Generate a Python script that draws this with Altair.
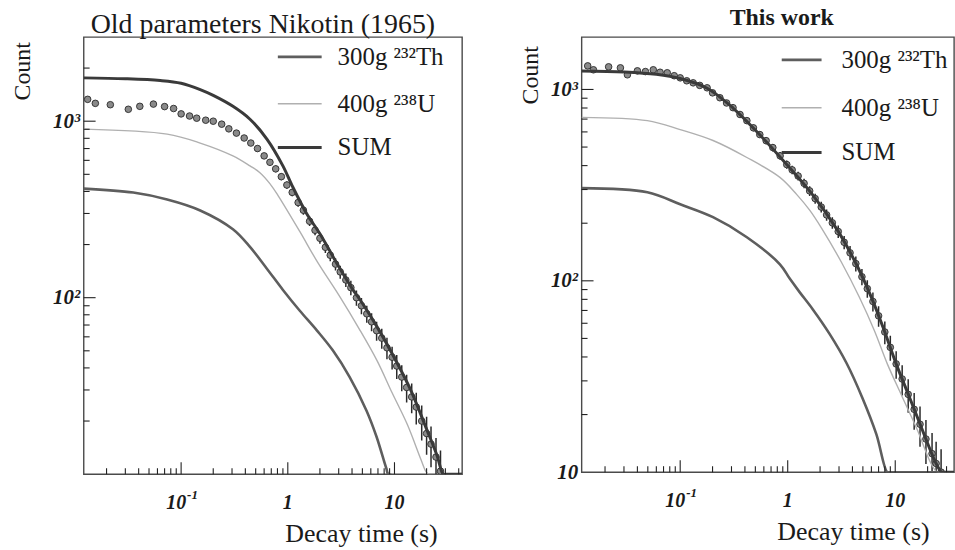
import altair as alt
import pandas as pd

FONT = "Liberation Serif"
INK = "#1a1a1a"

# ---------------- Left panel: "Old parameters Nikotin (1965)" ----------------
L_data_x = [0.0133, 0.0157, 0.0217, 0.032, 0.041, 0.055, 0.07, 0.085, 0.1, 0.12, 0.14, 0.17,
            0.2, 0.24, 0.28, 0.33, 0.39, 0.45, 0.52, 0.6, 0.68, 0.77, 0.87, 0.98, 1.1, 1.25,
            1.4, 1.6, 1.8, 2.0, 2.25, 2.5, 2.8, 3.1, 3.5, 3.9, 4.4, 4.9, 5.5, 6.1, 6.8, 7.6,
            8.5, 9.5, 10.5, 11.7, 13, 14.5, 16, 18, 20, 22, 24.5, 27]
L_data_y = [1330, 1262, 1240, 1168, 1214, 1250, 1210, 1180, 1100, 1070, 1040, 1013,
            1000, 962, 905, 856, 803, 752, 700, 636, 585, 537, 485, 435, 395, 346,
            313, 271, 241, 217, 193, 174, 155, 140, 126, 114, 100, 90, 81, 73, 65, 59,
            52, 46, 41, 35.5, 31, 27.4, 24, 20, 17, 14.8, 12.5, 10.4]

L_sum_x = [0.0122, 0.03, 0.0637, 0.1, 0.151, 0.2, 0.306, 0.442, 0.637, 0.897, 1.1, 1.5, 2, 3,
           4, 5, 7, 10, 14, 20, 25, 28.5, 29.5, 43]
L_sum_y = [1760, 1740, 1700, 1640, 1510, 1400, 1214, 1026, 792, 560, 430, 300, 230, 150,
           113, 93, 67, 45.5, 30.5, 18, 12.8, 10, 10, 10]

L_u_x = [0.0122, 0.074, 0.151, 0.306, 0.442, 0.548, 0.679, 0.808, 1.29, 1.9, 2.99, 4.71, 6.9,
         9.5, 13.2, 17.7, 19.8, 20.8, 43]
L_u_y = [902, 845, 752, 636, 558, 511, 443, 380, 238, 159, 104, 66, 43.7, 28.9, 19.1, 12.1,
         10.3, 10, 10]

L_th_x = [0.0122, 0.0356, 0.074, 0.151, 0.306, 0.442, 0.637, 0.897, 1.29, 1.87, 2.64, 3.79,
          5.47, 6.79, 8.42, 8.8, 43]
L_th_y = [415, 394, 360, 312, 244, 194, 146, 111, 84.6, 65.3, 50.3, 35.6, 22.9, 16.3, 10.7,
          10, 10]

# ---------------- Right panel: "This work" ----------------
R_data_x = [0.0138, 0.0156, 0.0216, 0.0278, 0.0323, 0.04, 0.0475, 0.0562, 0.065, 0.0758,
            0.088, 0.1, 0.115, 0.132, 0.152, 0.178, 0.2, 0.234, 0.27, 0.31, 0.36, 0.417,
            0.48, 0.55, 0.63, 0.727, 0.85, 0.98, 1.1, 1.25, 1.42, 1.6, 1.8, 2.05, 2.3, 2.6,
            2.95, 3.35, 3.8, 4.3, 4.9, 5.5, 6.2, 7.0, 8.0, 9.0, 10.2, 11.6, 13.2, 15, 17,
            19.3, 22, 24, 26.7]
R_data_y = [1328, 1267, 1313, 1297, 1193, 1251, 1240, 1267, 1230, 1222,
            1180, 1150, 1110, 1083, 1050, 1020, 960, 905, 850, 803, 740, 687,
            630, 581, 540, 497, 450, 405, 380, 353, 323, 295, 269, 243, 221, 201,
            181, 159, 140, 123, 105, 91, 78, 65.6, 54, 44.9, 36.8, 30.7, 25.5, 21.3, 17.8,
            14.9, 12.5, 11.1, 10]

R_sum_x = [0.0121, 0.03, 0.06, 0.1, 0.178, 0.31, 0.55, 0.98, 1.7, 2.9, 4.35, 6.0, 7.9, 10.2,
           13.5, 17.8, 24, 27, 28, 35.2]
R_sum_y = [1250, 1235, 1200, 1140, 1015, 800, 580, 405, 282, 184, 122, 82, 55, 36.8,
           24.8, 16.7, 11.1, 10, 10, 10]

R_u_x = [0.0121, 0.0495, 0.1, 0.202, 0.417, 0.846, 1.21, 1.6, 2.07, 3.16, 4.64, 6.39, 8.44,
         11.6, 16, 21.5, 24.5, 25.5, 35.2]
R_u_y = [715, 687, 617, 541, 441, 347, 283, 234, 188, 125, 82, 55, 36.8, 24.8, 16.7, 11.1,
         10, 10, 10]

R_th_x = [0.0121, 0.0495, 0.1, 0.202, 0.417, 0.846, 1.04, 1.29, 1.70, 2.45, 3.52, 4.94, 6.67,
          8.42, 8.9, 35.2]
R_th_y = [305, 290, 251, 215, 169, 122, 103, 87.3, 71.3, 52.8, 37.2, 24.5, 15.8, 10, 10, 10]

# ---------------- ticks & labels ----------------
X_MAJOR = [0.1, 1, 10]
X_LABEL_BASE = ["10", "1", "10"]
X_LABEL_SUP = ["-1", "", ""]
X_MINOR = [0.02, 0.03, 0.04, 0.05, 0.06, 0.07, 0.08, 0.09, 0.2, 0.3, 0.4, 0.5, 0.6, 0.7,
           0.8, 0.9, 2, 3, 4, 5, 6, 7, 8, 9, 20, 30, 40]
Y_MAJOR = [10, 100, 1000]
Y_MINOR = [20, 30, 40, 50, 60, 70, 80, 90, 200, 300, 400, 500, 600, 700, 800, 900, 2000]

LEGEND_LABELS = ["300g \u00b2\u00b3\u00b2Th", "400g \u00b2\u00b3\u2078U", "SUM"]

Y_LABEL_EXPR = ("datum.value > 500 ? '10\u00b3' : (datum.value > 50 ? '10\u00b2' : '10')")

STY_SUM = dict(color="#3a3a3a", strokeWidth=3.0)
STY_TH = dict(color="#5e5e5e", strokeWidth=2.6)
STY_U = dict(color="#b0b0b0", strokeWidth=1.4)


def line_df(xs, ys):
    return pd.DataFrame({"x": xs, "y": ys})


def panel(title, title_size, title_weight, title_dx, title_offset, xdom, ydom, w, h,
          data_xy, sum_xy, th_xy, u_xy, y_labels, count_x, count_y,
          leg_x0, leg_x1, leg_tx, leg_rows, lab_y):
    xs = alt.Scale(type="log", domain=xdom, nice=False)
    ys = alt.Scale(type="log", domain=ydom, nice=False, clamp=True)

    x_axis = alt.Axis(values=X_MAJOR, labels=False, ticks=False, domain=False, grid=False,
                      title="Decay time (s)", titleFont=FONT, titleFontSize=26,
                      titleFontWeight="normal", titleColor=INK, titleX=w - 25,
                      titleY=68, titleAlign="right", titleBaseline="alphabetic")
    y_axis = alt.Axis(values=y_labels, labelExpr=Y_LABEL_EXPR, ticks=False, domain=False,
                      grid=False, labelFont=FONT, labelFontStyle="italic",
                      labelFontWeight="bold", labelFontSize=21, labelPadding=4,
                      labelColor=INK, labelFlush=False,
                      title="Count", titleFont=FONT, titleFontSize=24,
                      titleFontWeight="normal", titleColor=INK, titleX=count_x,
                      titleY=count_y, titleAlign="center", titleBaseline="middle",
                      titleAngle=270)

    X = lambda f: alt.X(f, scale=xs, axis=x_axis)
    Y = lambda f: alt.Y(f, scale=ys, axis=y_axis)

    def curve(xy, sty):
        return alt.Chart(line_df(*xy)).mark_line(
            clip=True, interpolate="catmull-rom", **sty).encode(x=X("x:Q"), y=Y("y:Q"))

    dfd = line_df(*data_xy)
    base = alt.Chart(dfd).transform_calculate(
        lo="datum.y - sqrt(datum.y)", hi="datum.y + sqrt(datum.y)")
    err = base.mark_rule(color="#2a2a2a", strokeWidth=1.5, clip=True).encode(
        x=X("x:Q"), y=Y("lo:Q"), y2="hi:Q")
    dots = base.mark_point(shape="circle", filled=True, size=44, color="#8a8a8a",
                           stroke="#2a2a2a", strokeWidth=0.9, opacity=1, clip=True).encode(
        x=X("x:Q"), y=Y("y:Q"))

    xmin = [v for v in X_MINOR if xdom[0] < v < xdom[1]]
    ymin = [v for v in Y_MINOR if ydom[0] < v < ydom[1]]
    ymaj = [v for v in Y_MAJOR if ydom[0] < v < ydom[1]]
    tk = dict(color="#222", strokeWidth=1.1)
    xt_major = alt.Chart(pd.DataFrame({"v": X_MAJOR})).mark_rule(**tk).encode(
        x=X("v:Q"), y=alt.value(h), y2=alt.value(h - 12))
    xt_minor = alt.Chart(pd.DataFrame({"v": xmin})).mark_rule(**tk).encode(
        x=X("v:Q"), y=alt.value(h), y2=alt.value(h - 6))
    yt_major = alt.Chart(pd.DataFrame({"v": ymaj})).mark_rule(**tk).encode(
        y=Y("v:Q"), x=alt.value(0), x2=alt.value(12))
    yt_minor = alt.Chart(pd.DataFrame({"v": ymin})).mark_rule(**tk).encode(
        y=Y("v:Q"), x=alt.value(0), x2=alt.value(6))

    # x tick labels (base text + superscript exponent)
    lab_df = pd.DataFrame({"v": X_MAJOR, "t": X_LABEL_BASE, "s": X_LABEL_SUP})
    lab_font = dict(font=FONT, fontStyle="italic", fontWeight="bold", color=INK)
    xl_sup_base = alt.Chart(lab_df).transform_filter("datum.s != ''").mark_text(
        fontSize=20, align="right", baseline="middle", dx=5, **lab_font).encode(
        x=X("v:Q"), y=alt.value(h + lab_y), text="t:N")
    xl_sup = alt.Chart(lab_df).transform_filter("datum.s != ''").mark_text(
        fontSize=13, align="left", baseline="middle", dx=6, dy=-8, **lab_font).encode(
        x=X("v:Q"), y=alt.value(h + lab_y), text="s:N")
    xl_plain = alt.Chart(lab_df).transform_filter("datum.s == ''").mark_text(
        fontSize=20, align="center", baseline="middle", **lab_font).encode(
        x=X("v:Q"), y=alt.value(h + lab_y), text="t:N")

    leg_styles = [STY_TH, STY_U, STY_SUM]
    legend = []
    for lab, sty, ry in zip(LEGEND_LABELS, leg_styles, leg_rows):
        legend.append(alt.Chart(pd.DataFrame({"t": [lab]})).mark_rule(**sty).encode(
            x=alt.value(leg_x0), x2=alt.value(leg_x1), y=alt.value(ry)))
        legend.append(alt.Chart(pd.DataFrame({"t": [lab]})).mark_text(
            font=FONT, fontSize=25, color=INK, align="left", baseline="middle").encode(
            text="t:N", x=alt.value(leg_tx), y=alt.value(ry)))

    layers = [err, dots, curve(u_xy, STY_U), curve(th_xy, STY_TH), curve(sum_xy, STY_SUM),
              xt_major, xt_minor, yt_major, yt_minor, xl_sup_base, xl_sup, xl_plain] + legend
    return alt.layer(*layers).properties(
        width=w, height=h,
        title=alt.TitleParams(title, font=FONT, fontSize=title_size, fontWeight=title_weight,
                              color=INK, anchor="middle", dx=title_dx, offset=title_offset))


left = panel("Old parameters Nikotin (1965)", 28, "normal", -10, -2, [0.0122, 43], [10, 3000],
             380, 439, (L_data_x, L_data_y), (L_sum_x, L_sum_y), (L_th_x, L_th_y),
             (L_u_x, L_u_y), [100, 1000], -61, 34, 195, 239, 255, [20, 67, 111], 29)
right = panel("This work", 24, "bold", 14, 7, [0.0121, 35.2], [10, 1880],
              374, 437, (R_data_x, R_data_y), (R_sum_x, R_sum_y), (R_th_x, R_th_y),
              (R_u_x, R_u_y), [10, 100, 1000], -51, 38, 201, 241, 261, [23, 71, 116], 29)

chart = alt.hconcat(left, right, spacing=55).properties(
    padding={"left": 10, "top": 4, "right": 0, "bottom": 0},
    background="white",
).configure_view(stroke="#4a4a4a", strokeWidth=1.4)

chart.save("out.html", embed_options={"renderer": "svg", "actions": False})
